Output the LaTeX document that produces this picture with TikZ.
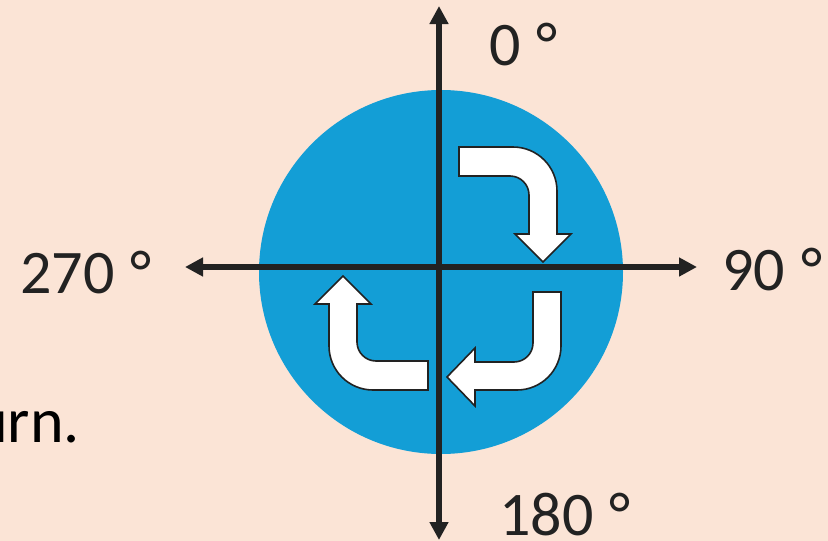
\documentclass[tikz,border=0pt]{standalone}
\usepackage{fontspec}
\setmainfont{Carlito}
\usetikzlibrary{arrows.meta}
\definecolor{peach}{HTML}{FBE4D6}
\definecolor{dialblue}{HTML}{139ED6}
\definecolor{ink}{HTML}{222222}
\tikzstyle{axis}  = [line width=5.5pt, draw=ink, {Triangle[length=18pt,width=18pt]}-{Triangle[length=18pt,width=18pt]}]
\tikzstyle{turn}  = [fill=white, draw=ink, line width=1.6pt, line join=miter]
\tikzstyle{angle} = [font=\fontsize{62}{62}\selectfont, text=ink, inner sep=0pt]

\begin{document}
\begin{tikzpicture}[x=1pt, y=1pt]

    % page
    \fill[peach] (0,0) rectangle (828,-541);
    \useasboundingbox (0,0) rectangle (828,-541);

    % dial
    \fill[dialblue] (441,-272) circle[radius=182];

    % axes
    \coordinate (top)    at (439,-6);
    \coordinate (bottom) at (439,-540);
    \coordinate (left)   at (185,-267);
    \coordinate (right)  at (697,-267);
    \draw[axis] (left) -- (right);
    \draw[axis] (bottom) -- (top);

    % turning arrows
    \draw[turn] (459,-147) -- (513,-147) arc[start angle=90, end angle=0, radius=44]
        -- (557,-234) -- (571,-234) -- (543,-262) -- (515,-234) -- (529,-234)
        -- (529,-195) arc[start angle=0, end angle=90, radius=19] -- (459,-176) -- cycle;
    \draw[turn] (561,-292) -- (561,-346) arc[start angle=0, end angle=-90, radius=44]
        -- (475,-390) -- (475,-406) -- (447,-377) -- (475,-348) -- (475,-362)
        -- (514,-362) arc[start angle=-90, end angle=0, radius=19] -- (533,-292) -- cycle;
    \draw[turn] (428,-390) -- (373,-390) arc[start angle=-90, end angle=-180, radius=44]
        -- (329,-304) -- (315,-304) -- (343,-276) -- (371,-304) -- (357,-304)
        -- (357,-342) arc[start angle=180, end angle=270, radius=19] -- (428,-361) -- cycle;

    % labels
    \node[angle, anchor=base west] (deg0)   at (489,-65)  {0\hspace{2pt} °};
    \node[angle, anchor=base west] (deg90)  at (722,-290) {90\hspace{2pt} °};
    \node[angle, anchor=base west] (deg180) at (499,-535) {180\hspace{2pt} °};
    \node[angle, anchor=base west] (deg270) at (20,-293)  {270\hspace{2pt} °};
    \node[font=\fontsize{64}{64}\selectfont, inner sep=0pt, anchor=base east] (word) at (80,-442) {urn.};

\end{tikzpicture}
\end{document}
